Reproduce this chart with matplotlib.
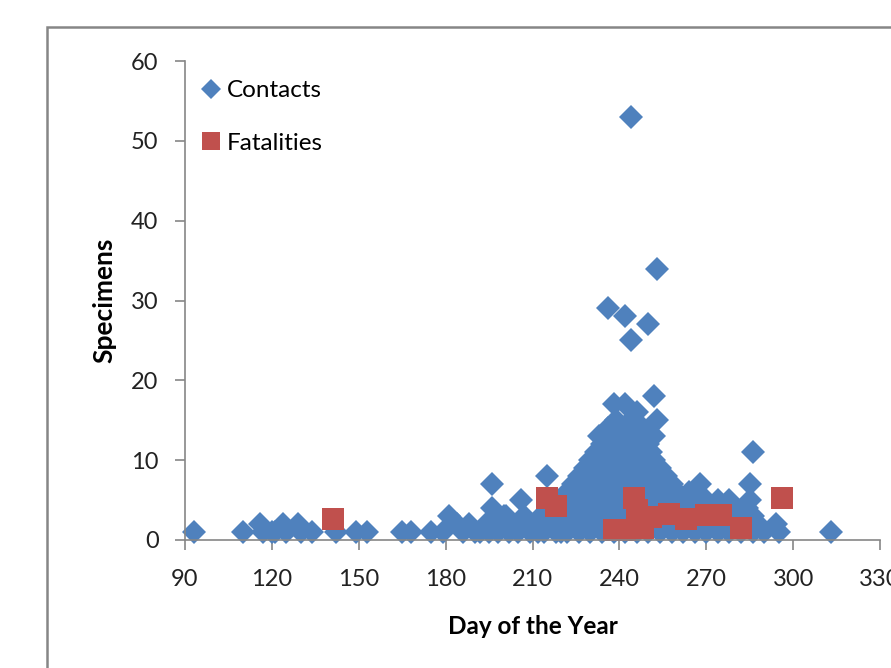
import matplotlib
matplotlib.use("Agg")
import matplotlib.pyplot as plt
from matplotlib.patches import Rectangle

# data
contact_day = [
    93, 110, 116, 117, 120, 121, 124, 125, 129, 130, 134, 142, 149, 153, 165, 168, 175, 179, 181,
    184, 186, 188, 190, 192, 194, 195, 196, 196, 197, 198, 199, 200, 201, 202, 203, 205, 206, 207,
    208, 209, 211, 212, 213, 214, 215, 216, 218, 219, 220, 221,
    222, 222, 222, 222, 224, 224, 224, 226, 226, 226, 226, 228, 228, 228, 228,
    230, 230, 230, 230, 230, 232, 232, 232, 232, 232, 233,
    234, 234, 234, 234, 234, 234, 236, 236, 236, 236, 236, 236, 236, 237,
    238, 238, 238, 238, 238, 238, 238, 239, 240, 240, 240, 240, 240, 240, 241,
    242, 242, 242, 242, 242, 242, 242, 242, 243,
    244, 244, 244, 244, 244, 244, 244, 244, 244,
    246, 246, 246, 246, 246, 246, 246, 246, 248, 248, 248, 248, 248, 248,
    250, 250, 250, 250, 250, 250, 250, 251, 252, 252, 252, 252, 252, 252, 252, 253, 253,
    254, 254, 254, 254, 254, 256, 256, 256, 256, 258, 258, 258, 258, 260, 260, 260,
    262, 262, 262, 264, 264, 264, 266, 266, 266, 268, 268, 268, 270, 270, 270,
    272, 272, 274, 274, 274, 276, 276, 278, 278, 278, 280, 280, 282, 282,
    284, 284, 285, 285, 286, 286, 286, 288, 290, 294, 295, 313,
]
contact_n = [
    1, 1, 2, 1, 1, 1, 2, 1, 2, 1, 1, 1, 1, 1, 1, 1, 1, 1, 3,
    2, 1, 2, 1, 1, 2, 1, 7, 4, 3, 1, 2, 3, 3, 1, 2, 1, 5, 3,
    2, 1, 2, 1, 3, 1, 8, 2, 1, 3, 1, 2,
    1, 3, 5, 6, 2, 4, 7, 1, 3, 5, 8, 2, 4, 6, 9,
    1, 3, 5, 7, 10, 2, 4, 6, 8, 11, 13,
    1, 3, 5, 7, 9, 12, 2, 4, 6, 8, 10, 14, 29, 11,
    1, 3, 5, 7, 9, 12, 17, 15, 2, 4, 6, 8, 10, 13, 14,
    1, 3, 5, 7, 9, 11, 17, 28, 13,
    2, 4, 6, 8, 10, 12, 15, 53, 25,
    1, 3, 5, 7, 9, 11, 13, 16, 2, 4, 6, 8, 10, 14,
    1, 3, 5, 7, 9, 12, 27, 11, 2, 4, 6, 8, 10, 13, 18, 15, 34,
    1, 3, 5, 7, 9, 2, 4, 6, 8, 1, 3, 5, 7, 2, 4, 6,
    1, 3, 5, 2, 4, 6, 1, 3, 5, 2, 4, 7, 1, 3, 5,
    2, 4, 1, 3, 5, 2, 4, 1, 3, 5, 2, 4, 1, 3,
    2, 4, 5, 7, 1, 3, 11, 2, 1, 2, 1, 1,
]

fatal_day = [141, 215, 218, 238, 242, 245, 246, 248, 251, 257, 263, 270, 275, 282, 296]
fatal_n = [2.6, 5.3, 4.2, 1.3, 1.3, 5.3, 3.8, 1.5, 2.9, 3.2, 2.6, 3.1, 3.1, 1.5, 5.3]

blue = "#4F81BD"
red = "#C0504D"
grey = "#868686"

plt.rcParams["font.family"] = ["Lato", "DejaVu Sans"]

fig = plt.figure(figsize=(8.91, 6.68), dpi=100)
ax = fig.add_axes([185 / 891, 128 / 668, 695 / 891, 479 / 668])

ax.plot(contact_day, contact_n, linestyle="none", marker="D", markersize=12.2,
        color=blue, markeredgewidth=0, label="Contacts", clip_on=False)
ax.plot(fatal_day, fatal_n, linestyle="none", marker="s", markersize=16.5,
        color=red, markeredgewidth=0, label="Fatalities", clip_on=False)

ax.set_xlim(90, 330)
ax.set_ylim(0, 60)
ax.set_xticks(range(90, 331, 30))
ax.set_yticks(range(0, 61, 10))

for s in ["top", "right"]:
    ax.spines[s].set_visible(False)
for s in ["left", "bottom"]:
    ax.spines[s].set_color(grey)
    ax.spines[s].set_linewidth(1.2)

ax.tick_params(axis="both", colors=grey, labelcolor="#222222", labelsize=17,
               length=7, width=1.2, direction="out")
ax.tick_params(axis="y", pad=12)
ax.tick_params(axis="x", pad=14)

ax.set_xlabel("Day of the Year", fontsize=17.5, fontweight="bold", va="center")
ax.set_ylabel("Specimens", fontsize=19, fontweight="bold", va="center")
ax.xaxis.set_label_coords((533 - 185) / 695, (540 - 627) / 479)
ax.yaxis.set_label_coords((104 - 185) / 695, (540 - 300) / 479)

leg = ax.legend(loc="upper left", bbox_to_anchor=(188 / 891, 1 - 68 / 668),
                bbox_transform=fig.transFigure, frameon=False, fontsize=17.5,
                handlelength=0.9, handletextpad=0.2, labelspacing=1.3,
                borderpad=0, markerscale=0.8)

# chart area border (cut off at the right and bottom)
fig.patches.append(Rectangle((47 / 891, -0.1), 1.2, (668 - 27) / 668 + 0.1,
                             transform=fig.transFigure, fill=False,
                             edgecolor=grey, linewidth=1.8))

fig.savefig("out.png", dpi=100)
